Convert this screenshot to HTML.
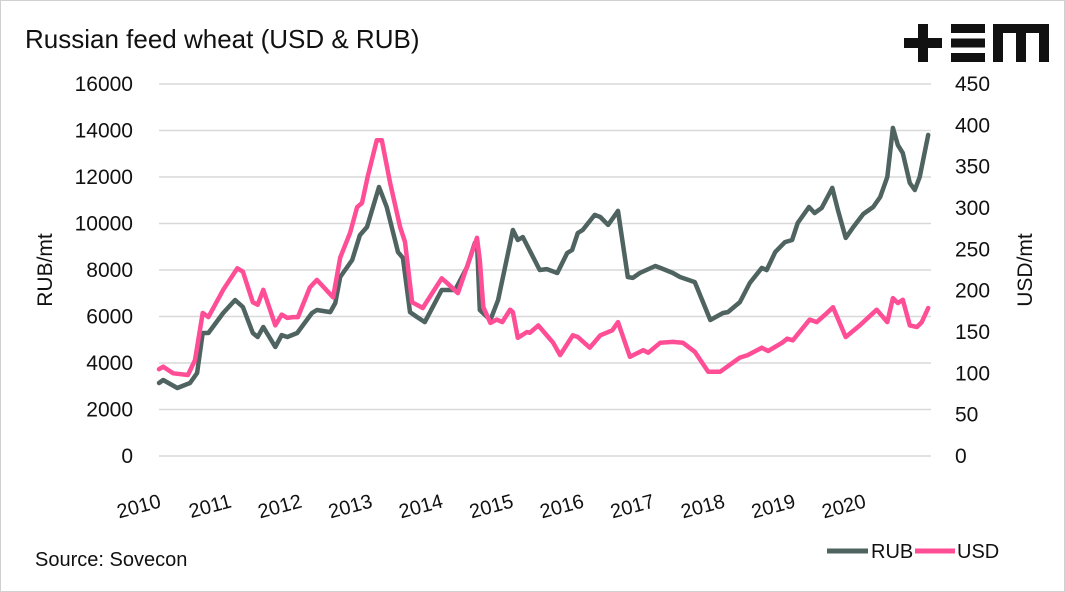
<!DOCTYPE html>
<html><head><meta charset="utf-8"><style>
body{margin:0;background:#fff}
svg{display:block;font-family:"Liberation Sans",sans-serif}
</style></head><body>
<svg width="1065" height="592" viewBox="0 0 1065 592">
<rect x="0.5" y="0.5" width="1064" height="591" fill="#fff" stroke="#d0d0d0"/>
<text x="25" y="48" font-size="26" fill="#111">Russian feed wheat (USD &amp; RUB)</text>
<g fill="#111">
<rect x="904" y="38" width="38" height="10"/><rect x="918" y="24" width="10" height="38"/>
<rect x="951" y="24" width="34" height="9"/><rect x="951" y="38.5" width="34" height="9"/><rect x="951" y="53" width="34" height="9"/>
<path d="M993 62V24h56v38h-10V33h-13v29h-10V33h-13v29z"/>
</g>
<g id="grid"></g>
<g id="ylabL"></g>
<g id="ylabR"></g>
<g id="xlab"></g>
<text transform="translate(52,270) rotate(-90)" text-anchor="middle" font-size="21" fill="#111">RUB/mt</text>
<text transform="translate(1032,270) rotate(-90)" text-anchor="middle" font-size="21" fill="#111">USD/mt</text>
<path id="rubLine" fill="none" stroke="#4f6361" stroke-width="4.5" stroke-linejoin="round" stroke-linecap="round"/>
<path id="usdLine" fill="none" stroke="#ff4d96" stroke-width="4.5" stroke-linejoin="round" stroke-linecap="round"/>
<text x="35" y="566" font-size="20" fill="#111">Source: Sovecon</text>
<g><line x1="827" y1="551" x2="868" y2="551" stroke="#4f6361" stroke-width="5"/><text x="871" y="558" font-size="20" fill="#111">RUB</text></g>
<g><line x1="915" y1="551" x2="955" y2="551" stroke="#ff4d96" stroke-width="5"/><text x="957" y="558" font-size="20" fill="#111">USD</text></g>
</svg>
<script>
const rubT=[2010.00,2010.06,2010.26,2010.44,2010.54,2010.62,2010.70,2010.91,2011.08,2011.19,2011.33,2011.40,2011.48,2011.65,2011.74,2011.82,2011.96,2012.17,2012.24,2012.43,2012.50,2012.57,2012.74,2012.85,2012.95,2013.12,2013.23,2013.39,2013.46,2013.56,2013.66,2013.77,2014.01,2014.20,2014.37,2014.48,2014.51,2014.55,2014.70,2014.81,2015.02,2015.09,2015.16,2015.40,2015.50,2015.65,2015.79,2015.86,2015.94,2016.01,2016.18,2016.26,2016.37,2016.51,2016.65,2016.72,2016.82,2017.04,2017.11,2017.29,2017.39,2017.60,2017.82,2018.00,2018.07,2018.24,2018.38,2018.55,2018.62,2018.74,2018.88,2018.98,2019.06,2019.22,2019.30,2019.40,2019.55,2019.63,2019.74,2019.84,2019.99,2020.13,2020.23,2020.33,2020.41,2020.48,2020.55,2020.65,2020.72,2020.79,2020.91];
const rubV=[3140,3270,2925,3140,3570,5290,5290,6150,6710,6410,5290,5120,5550,4690,5200,5120,5290,6150,6280,6190,6580,7700,8430,9500,9850,11570,10710,8770,8520,6190,5980,5760,7140,7140,8130,9160,9200,6280,5850,6710,9720,9290,9420,8000,8040,7870,8730,8860,9590,9720,10370,10280,9940,10540,7700,7660,7870,8170,8090,7870,7700,7480,5850,6150,6190,6620,7440,8090,8000,8770,9200,9290,10020,10710,10450,10670,11530,10580,9380,9810,10410,10710,11140,12000,14110,13380,13030,11740,11440,12000,13810];
const usdT=[2010.00,2010.06,2010.20,2010.41,2010.51,2010.62,2010.70,2010.91,2011.11,2011.19,2011.33,2011.40,2011.48,2011.65,2011.74,2011.82,2011.90,2011.97,2012.14,2012.24,2012.47,2012.57,2012.71,2012.81,2012.88,2012.96,2013.09,2013.16,2013.28,2013.42,2013.49,2013.59,2013.74,2014.01,2014.09,2014.24,2014.51,2014.55,2014.60,2014.70,2014.79,2014.87,2014.98,2015.02,2015.09,2015.22,2015.26,2015.38,2015.52,2015.59,2015.69,2015.87,2015.94,2016.11,2016.26,2016.43,2016.51,2016.68,2016.87,2016.94,2017.11,2017.29,2017.43,2017.60,2017.79,2017.96,2018.24,2018.35,2018.55,2018.64,2018.84,2018.91,2018.99,2019.23,2019.33,2019.45,2019.56,2019.74,2019.94,2020.18,2020.27,2020.33,2020.41,2020.48,2020.55,2020.65,2020.75,2020.82,2020.91];
const usdV=[105,108,100,98,116,173,168,201,227,223,186,183,201,158,171,167,168,168,204,213,192,240,270,301,306,338,382,382,330,277,259,186,179,215,209,197,264,237,180,161,165,162,177,174,143,150,149,158,144,137,122,146,144,131,146,152,162,120,128,125,137,138,137,126,102,102,119,122,131,127,137,142,140,165,162,171,180,144,158,177,168,162,191,185,189,158,156,162,179];
const years=[2010,2011,2012,2013,2014,2015,2016,2017,2018,2019,2020];
const leftTicks=[0,2000,4000,6000,8000,10000,12000,14000,16000];
const rightTicks=[0,50,100,150,200,250,300,350,400,450];

const X0=159,X1=931,Y0=456,Y1=84;
const x=t=>X0+(t-2010)*70.5;
const yL=v=>Y0-(v/16000)*(Y0-Y1);
const yR=v=>Y0-(v/450)*(Y0-Y1);
const NS="http://www.w3.org/2000/svg";
function mk(tag,attrs,parent,txt){const e=document.createElementNS(NS,tag);for(const k in attrs)e.setAttribute(k,attrs[k]);if(txt!==undefined)e.textContent=txt;parent.appendChild(e);return e;}
const grid=document.getElementById('grid'),gL=document.getElementById('ylabL'),gR=document.getElementById('ylabR'),gX=document.getElementById('xlab');
leftTicks.forEach(v=>{
 const l=mk('line',{x1:X0,x2:X1,y1:yL(v),y2:yL(v),stroke:'#d9d9d9','stroke-width':1.5},grid);
 
 
 const t=mk('text',{x:133,y:yL(v)+7,'text-anchor':'end','font-size':21,fill:'#111'},gL,String(v));
 
 
});
rightTicks.forEach(v=>{
 const t=mk('text',{x:955,y:yR(v)+7,'font-size':21,fill:'#111'},gR,String(v));
 
 
});
years.forEach(yr=>{
 const t=mk('text',{transform:`translate(${x(yr)+3},${507}) rotate(-15)`,'text-anchor':'end','font-size':20,fill:'#111'},gX,String(yr));
 
 
});
document.getElementById('rubLine').setAttribute('d',rubT.map((t,i)=>(i?'L':'M')+x(t).toFixed(1)+' '+yL(rubV[i]).toFixed(1)).join(''));
document.getElementById('usdLine').setAttribute('d',usdT.map((t,i)=>(i?'L':'M')+x(t).toFixed(1)+' '+yR(usdV[i]).toFixed(1)).join(''));
</script>
</body></html>
